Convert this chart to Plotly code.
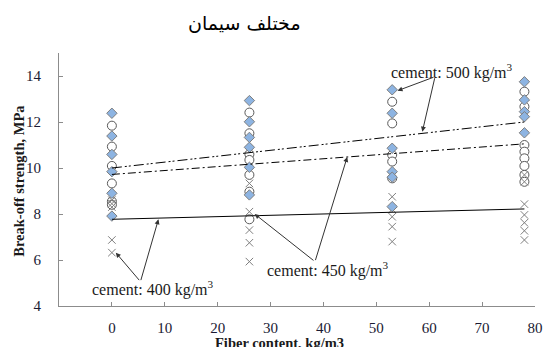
import plotly.graph_objects as go

# ---- data ----
fiber = [0, 26, 53, 78]

# cement 400 kg/m3 (x markers)
c400 = {
    0: [8.6, 8.45, 8.3, 6.87, 6.32],
    26: [9.33, 8.1, 7.3, 6.75, 5.93],
    53: [8.75, 8.2, 7.88, 7.45, 6.8],
    78: [9.7, 9.4, 8.43, 7.96, 7.62, 7.27, 6.87],
}
# cement 450 kg/m3 (open circles)
c450 = {
    0: [11.84, 10.93, 10.09, 9.33, 8.55, 8.4],
    26: [12.41, 11.51, 10.6, 10.35, 9.7, 8.97, 7.77],
    53: [12.88, 11.94, 10.57, 10.28, 9.55],
    78: [13.32, 12.67, 11.0, 10.71, 10.42, 10.09, 9.7, 9.4],
}
# cement 500 kg/m3 (blue diamonds)
c500 = {
    0: [12.38, 11.39, 10.59, 9.84, 8.9, 7.91],
    26: [12.93, 12.01, 11.33, 10.9, 10.03, 8.83],
    53: [13.4, 12.38, 10.86, 9.84, 9.6, 8.32],
    78: [13.75, 12.96, 12.45, 12.23, 11.53],
}
# trend lines (start at 0, end at 78)
trend_x = [0, 78]
trend400 = [7.77, 8.22]
trend450 = [9.72, 11.05]
trend500 = [10.0, 12.0]

x_ticks = [0, 10, 20, 30, 40, 50, 60, 70, 80]
y_ticks = [4, 6, 8, 10, 12, 14]

title_text = "مختلف سيمان"
x_title = "Fiber content, kg/m3"
y_title = "Break-off strength, MPa"
lab400 = "cement: 400 kg/m<sup>3</sup>"
lab450 = "cement: 450 kg/m<sup>3</sup>"
lab500 = "cement: 500 kg/m<sup>3</sup>"


def flat(d):
    xs, ys = [], []
    for k in fiber:
        for v in d[k]:
            xs.append(k)
            ys.append(v)
    return xs, ys


SERIF = "Liberation Serif, Times New Roman, serif"
fig = go.Figure()

x1, y1 = flat(c450)
fig.add_trace(go.Scatter(x=x1, y=y1, mode="markers",
                         marker=dict(symbol="circle", size=9, color="white",
                                     line=dict(color="#595959", width=1))))
x2, y2 = flat(c400)
fig.add_trace(go.Scatter(x=x2, y=y2, mode="markers",
                         marker=dict(symbol="x-thin-open", size=7.5, color="#7f7f7f",
                                     line=dict(color="#7f7f7f", width=1))))
x3, y3 = flat(c500)
fig.add_trace(go.Scatter(x=x3, y=y3, mode="markers",
                         marker=dict(symbol="diamond", size=8, color="#8db4e2",
                                     line=dict(color="#7f7f7f", width=1))))

fig.add_trace(go.Scatter(x=trend_x, y=trend400, mode="lines",
                         line=dict(color="black", width=1)))
fig.add_trace(go.Scatter(x=trend_x, y=trend450, mode="lines",
                         line=dict(color="black", width=1, dash="8px,3px,2px,3px")))
fig.add_trace(go.Scatter(x=trend_x, y=trend500, mode="lines",
                         line=dict(color="black", width=1,
                                   dash="10px,3px,2px,2px,2px,3px")))

ann = []
TXT = "#1a1a1a"
ARR = "#333333"


def arrow(tip, tail):
    ann.append(dict(x=tip[0], y=tip[1], ax=tail[0], ay=tail[1], xref="x", yref="y",
                    axref="x", ayref="y", text="", showarrow=True, arrowhead=2,
                    arrowsize=1, arrowwidth=1, arrowcolor=ARR, standoff=0,
                    startstandoff=0))


def label(pos, text):
    ann.append(dict(x=pos[0], y=pos[1], xref="x", yref="y", text=text,
                    showarrow=False, font=dict(family=SERIF, size=16, color=TXT),
                    xanchor="center", yanchor="middle"))


label((7.7, 4.78), lab400)
arrow((0.74, 6.32), (5.4, 5.06))
arrow((8.8, 7.77), (5.4, 5.06))

label((40.8, 5.6), lab450)
arrow((27.0, 8.0), (38.4, 5.93))
arrow((44.5, 10.48), (38.4, 5.93))

label((64.4, 14.2), lab500)
arrow((54.0, 13.36), (61.1, 13.97))
arrow((58.7, 11.58), (61.1, 13.97))

ann.append(dict(x=0.39, y=1.12, xref="paper", yref="paper", text=title_text,
                showarrow=False, font=dict(family="DejaVu Sans", size=19, color="black"),
                xanchor="center", yanchor="middle"))
ann.append(dict(x=0.463, y=-0.146, xref="paper", yref="paper", text="<b>" + x_title + "</b>",
                showarrow=False, font=dict(family=SERIF, size=14.5, color=TXT),
                xanchor="center", yanchor="middle"))
ann.append(dict(x=-0.0845, y=0.494, xref="paper", yref="paper", text="<b>" + y_title + "</b>",
                showarrow=False, textangle=-90, font=dict(family=SERIF, size=14.5, color=TXT),
                xanchor="center", yanchor="middle"))

# the page body adds an 8px offset, so the figure is 8px smaller than the window
fig.update_layout(
    width=544, height=339,
    margin=dict(l=51, r=9, t=45, b=41),
    paper_bgcolor="white", plot_bgcolor="white",
    showlegend=False,
    annotations=ann,
    font=dict(family=SERIF, color=TXT),
)
fig.update_xaxes(range=[-10, 80], tickvals=x_ticks, showgrid=False, zeroline=False,
                 showline=True, linecolor="#8c8c8c", linewidth=1,
                 ticks="inside", ticklen=4, tickcolor="#8c8c8c",
                 ticklabelstandoff=8, tickfont=dict(family=SERIF, size=15, color="#1a1a33"))
fig.update_yaxes(range=[4, 15], tickvals=y_ticks, showgrid=False, zeroline=False,
                 showline=True, linecolor="#8c8c8c", linewidth=1,
                 ticks="inside", ticklen=4, tickcolor="#8c8c8c",
                 ticklabelstandoff=14, tickfont=dict(family=SERIF, size=15, color="#1a1a33"))

fig.write_html("out.html")
